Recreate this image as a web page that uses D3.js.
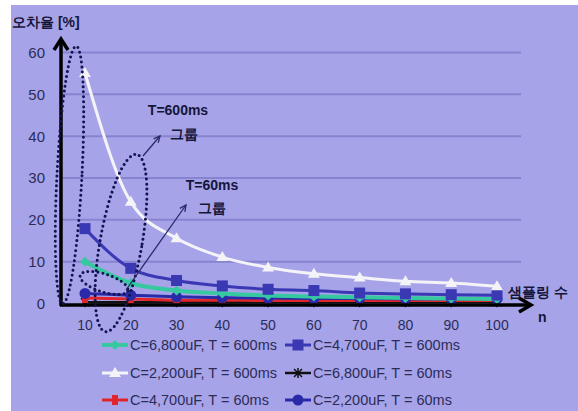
<!DOCTYPE html>
<html><head><meta charset="utf-8">
<script src="https://cdn.jsdelivr.net/npm/d3@7"></script>
<style>html,body{margin:0;padding:0;background:#fff;}svg{display:block;}</style>
</head><body>
<script>
const nValues = [10,20,30,40,50,60,70,80,90,100];
const yTicks = [0,10,20,30,40,50,60];
const xTicks = [10,20,30,40,50,60,70,80,90,100];
const s6800_600 = [10.0,4.9,3.1,2.4,1.9,1.7,1.5,1.3,1.2,1.1];
const s4700_600 = [17.9,8.4,5.5,4.2,3.4,3.1,2.5,2.3,2.1,2.0];
const s2200_600 = [55.1,24.3,15.6,11.1,8.6,7.1,6.2,5.3,4.9,4.1];
const s6800_60 = [0.3,0.3,0.3,0.3,0.3,0.3,0.3,0.3,0.3,0.3];
const s4700_60 = [1.3,1.1,0.8,0.8,0.7,0.7,0.7,0.7,0.7,0.7];
const s2200_60 = [2.4,2.0,1.6,1.4,1.3,1.2,1.2,1.1,1.1,1.1];
const seriesNames = ["C=6,800uF, T = 600ms","C=4,700uF, T = 600ms","C=2,200uF, T = 600ms","C=6,800uF, T = 60ms","C=4,700uF, T = 60ms","C=2,200uF, T = 60ms"];
const yTitle = "오차율 [%]";
const xTitle = "샘플링 수";
const xTitle2 = "n";
const notes = [["T=600ms","그룹"],["T=60ms","그룹"]];

const W=578,H=411;
const svg=d3.select("body").append("svg").attr("width",W).attr("height",H);
svg.append("rect").attr("x",11).attr("y",5).attr("width",W-11).attr("height",H-5).attr("fill","#a6a3e8");

const x=d3.scaleLinear().domain([10,100]).range([85,497]);
const y=d3.scaleLinear().domain([0,60]).range([303.5,52.5]);
const font="'Liberation Sans', Arial, sans-serif";
const txt="#2c2c58";

// gridlines
svg.append("g").selectAll("line").data(yTicks.filter(d=>d>0)).join("line")
  .attr("x1",62).attr("x2",521).attr("y1",d=>y(d)).attr("y2",d=>y(d))
  .attr("stroke","#8784cf").attr("stroke-width",2);

// y tick labels
svg.append("g").selectAll("text").data(yTicks).join("text")
  .attr("x",45).attr("y",d=>y(d)).attr("dy","0.36em").attr("text-anchor","end")
  .attr("font-family",font).attr("font-size",15).attr("fill",txt).text(d=>d);
// x tick labels
svg.append("g").selectAll("text").data(xTicks).join("text")
  .attr("x",d=>x(d)).attr("y",325).attr("dy","0.36em").attr("text-anchor","middle")
  .attr("font-family",font).attr("font-size",14).attr("fill",txt).text(d=>d);

const line=d3.line().x((d,i)=>x(nValues[i])).y(d=>y(d)).curve(d3.curveMonotoneX);

const series=[
  {v:s6800_60,color:"#111111",w:2.5,m:"x",name:seriesNames[3]},
  {v:s4700_60,color:"#e0262a",w:3,m:"rect",name:seriesNames[4]},
  {v:s2200_60,color:"#2a2aa8",w:3,m:"circle",name:seriesNames[5]},
  {v:s6800_600,color:"#36c9a0",w:4,m:"diamond",name:seriesNames[0]},
  {v:s4700_600,color:"#3b38b4",w:3,m:"square",name:seriesNames[1]},
  {v:s2200_600,color:"#f3f3f8",w:3,m:"triangle",name:seriesNames[2]},
];

function marker(g,type,cx,cy,color){
  if(type==="square") g.append("rect").attr("x",cx-5.5).attr("y",cy-5.5).attr("width",11).attr("height",11).attr("fill",color);
  else if(type==="circle") g.append("circle").attr("cx",cx).attr("cy",cy).attr("r",5.5).attr("fill",color);
  else if(type==="diamond") g.append("path").attr("d",`M${cx},${cy-5}L${cx+5},${cy}L${cx},${cy+5}L${cx-5},${cy}Z`).attr("fill",color);
  else if(type==="triangle") g.append("path").attr("d",`M${cx},${cy-6}L${cx+6},${cy+4}L${cx-6},${cy+4}Z`).attr("fill",color);
  else if(type==="rect") g.append("rect").attr("x",cx-3).attr("y",cy-5).attr("width",6).attr("height",10).attr("fill",color);
  else if(type==="x") g.append("path").attr("d",`M${cx-4},${cy-4}L${cx+4},${cy+4}M${cx-4},${cy+4}L${cx+4},${cy-4}M${cx},${cy-5}L${cx},${cy+5}`).attr("stroke",color).attr("stroke-width",1.5);
}

series.forEach(s=>{
  const g=svg.append("g");
  g.append("path").datum(s.v).attr("d",line).attr("fill","none").attr("stroke",s.color).attr("stroke-width",s.w);
  s.v.forEach((v,i)=>marker(g,s.m,x(nValues[i]),y(v),s.color));
});

// axes
const ax=svg.append("g").attr("stroke","#000").attr("fill","none").attr("stroke-width",3.5);
ax.append("path").attr("d","M61,306L61,40");
ax.append("path").attr("d","M54,50L61,39L68,50").attr("stroke-linejoin","miter");
ax.append("path").attr("d","M60,305L530,305");
ax.append("path").attr("d","M519,298L531,305L519,312");

// axis titles
svg.append("text").attr("x",12).attr("y",27).attr("font-family",font).attr("font-weight","bold").attr("font-size",14).attr("fill","#15153a").text(yTitle);
svg.append("text").attr("x",508).attr("y",297).attr("font-family",font).attr("font-weight","bold").attr("font-size",14).attr("fill","#15153a").text(xTitle);
svg.append("text").attr("x",538).attr("y",322).attr("font-family",font).attr("font-weight","bold").attr("font-size",14).attr("fill","#15153a").text(xTitle2);

// dotted ellipses
const dot={stroke:"#141452","stroke-width":3,"stroke-dasharray":"0 5","stroke-linecap":"round",fill:"none"};
function ell(cx,cy,rx,ry,rot){
  const e=svg.append("ellipse").attr("cx",0).attr("cy",0).attr("rx",rx).attr("ry",ry)
    .attr("transform",`translate(${cx},${cy}) rotate(${rot})`);
  Object.entries(dot).forEach(([k,v])=>e.attr(k,v));
}
ell(69.5,175,12.5,129,3);
ell(121,243,21,90,10);
ell(104,283,25,9,18);

// annotation arrows
function arrow(x1,y1,x2,y2){
  svg.append("line").attr("x1",x1).attr("y1",y1).attr("x2",x2).attr("y2",y2).attr("stroke","#2a2a6a").attr("stroke-width",1.3);
  const a=Math.atan2(y2-y1,x2-x1),L=7;
  const p1=[x2-L*Math.cos(a-0.45),y2-L*Math.sin(a-0.45)],p2=[x2-L*Math.cos(a+0.45),y2-L*Math.sin(a+0.45)];
  svg.append("path").attr("d",`M${p1}L${x2},${y2}L${p2}`).attr("stroke","#2a2a6a").attr("stroke-width",1.3).attr("fill","none");
}
arrow(143,156,160,136);
arrow(126,290,186,205);

svg.append("text").attr("x",178).attr("y",115).attr("text-anchor","middle").attr("font-family",font).attr("font-weight","bold").attr("font-size",14).attr("fill","#15153a").text(notes[0][0]);
svg.append("text").attr("x",184).attr("y",139).attr("text-anchor","middle").attr("font-family",font).attr("font-weight","bold").attr("font-size",14).attr("fill","#15153a").text(notes[0][1]);
svg.append("text").attr("x",212).attr("y",190).attr("text-anchor","middle").attr("font-family",font).attr("font-weight","bold").attr("font-size",14).attr("fill","#15153a").text(notes[1][0]);
svg.append("text").attr("x",212).attr("y",213).attr("text-anchor","middle").attr("font-family",font).attr("font-weight","bold").attr("font-size",14).attr("fill","#15153a").text(notes[1][1]);

// legend
const legendOrder=[3,4,5,0,1,2]; // teal, blue, white, black, red, navy
const legPos=[[102,345],[285,345],[102,373],[285,373],[102,400],[285,400]];
legendOrder.forEach((si,k)=>{
  const s=series[si],[lx,ly]=legPos[k];
  const g=svg.append("g");
  g.append("line").attr("x1",lx).attr("x2",lx+26).attr("y1",ly).attr("y2",ly).attr("stroke",s.color).attr("stroke-width",s.w);
  marker(g,s.m,lx+13,ly,s.color);
  g.append("text").attr("x",lx+28).attr("y",ly).attr("dy","0.36em").attr("font-family",font).attr("font-size",14.5).attr("fill",txt).text(s.name);
});
</script>
</body></html>
